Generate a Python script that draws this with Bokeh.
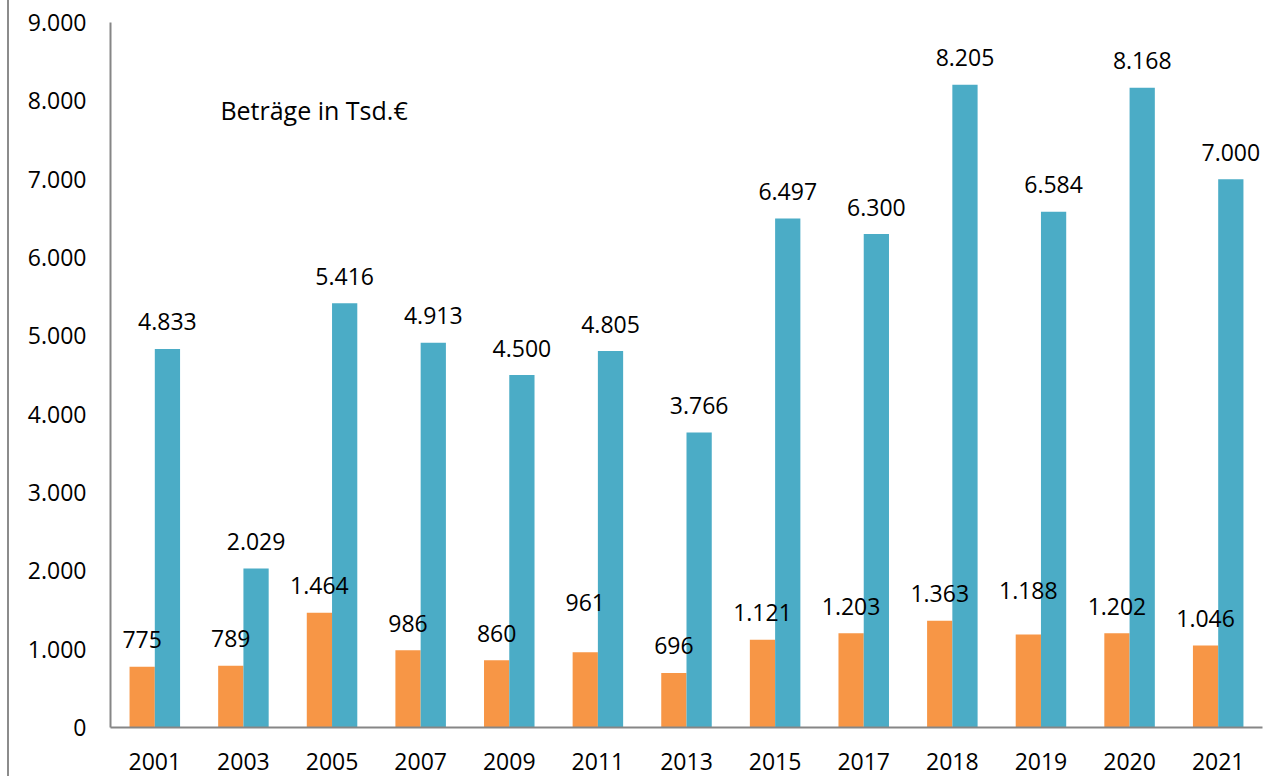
from bokeh.plotting import figure
from bokeh.models import (FactorRange, Range1d, ColumnDataSource, CustomJSTickFormatter,
                          FixedTicker, Label)
from bokeh.transform import dodge
from bokeh.core.properties import value
from bokeh.embed import file_html
from bokeh.resources import INLINE

# ---- data ----
years = ["2001", "2003", "2005", "2007", "2009", "2011", "2013",
         "2015", "2017", "2018", "2019", "2020", "2021"]
series_orange = [775, 789, 1464, 986, 860, 961, 696, 1121, 1203, 1363, 1188, 1202, 1046]
series_blue = [4833, 2029, 5416, 4913, 4500, 4805, 3766, 6497, 6300, 8205, 6584, 8168, 7000]
y_ticks = [0, 1000, 2000, 3000, 4000, 5000, 6000, 7000, 8000, 9000]
note_text = "Beträge in Tsd.€"

# extra lift (px) of a few orange labels, as placed in the original
orange_label_lift = [0, 0, 0, 0, 0, 23, 0, 0, 0, 0, 17, 0, 0]


def fmt(v):
    return f"{v:,}".replace(",", ".")


FONT = "Open Sans"
FS = "23px"
ORANGE = "#F79646"
BLUE = "#4BACC6"
AXIS = "#868686"

src = ColumnDataSource(dict(
    year=years,
    orange=series_orange,
    blue=series_blue,
    orange_lbl=[fmt(v) for v in series_orange],
    blue_lbl=[fmt(v) for v in series_blue],
    orange_off=[-27 - d for d in orange_label_lift],
))

p = figure(width=1273, height=776, x_range=FactorRange(*years, range_padding=0),
           y_range=Range1d(0, 9000), output_backend="svg", toolbar_location=None,
           min_border_left=110, min_border_right=11, min_border_top=22, min_border_bottom=49)
p.styles = {"background-image":
            "linear-gradient(to right, transparent 7px, #8c8c8c 7px, #8c8c8c 9px, transparent 9px)",
            "background-color": "white"}
p.outline_line_color = None
p.grid.visible = False
p.background_fill_color = "white"
p.border_fill_color = None

bw = 0.285
p.vbar(x=dodge("year", -bw / 2, range=p.x_range), top="orange", width=bw, source=src,
       fill_color=ORANGE, line_color=None)
p.vbar(x=dodge("year", bw / 2, range=p.x_range), top="blue", width=bw, source=src,
       fill_color=BLUE, line_color=None)

p.text(x=dodge("year", -bw / 2, range=p.x_range), y="orange", text="orange_lbl", source=src,
       y_offset="orange_off", text_align="center", text_baseline="middle",
       text_font=value(FONT), text_font_size=FS, text_color="black")
p.text(x=dodge("year", bw / 2, range=p.x_range), y="blue", text="blue_lbl", source=src,
       y_offset=-27, text_align="center", text_baseline="middle",
       text_font=value(FONT), text_font_size=FS, text_color="black")

p.add_layout(Label(x=1.24, y=7880, text=note_text, text_align="left", text_baseline="middle",
                   text_font=FONT, text_font_size="25px", text_color="black"))

# axes
p.yaxis.ticker = FixedTicker(ticks=y_ticks)
p.yaxis.formatter = CustomJSTickFormatter(
    code='return Math.round(tick).toString().replace(/\\B(?=(\\d{3})+(?!\\d))/g, ".");')
for ax in (p.xaxis[0], p.yaxis[0]):
    ax.axis_line_color = AXIS
    ax.axis_line_width = 2
    ax.major_tick_line_color = None
    ax.minor_tick_line_color = None
    ax.major_tick_out = 0
    ax.major_tick_in = 0
    ax.major_label_text_font = FONT
    ax.major_label_text_font_size = FS
    ax.major_label_text_color = "black"
p.yaxis.major_label_standoff = 24
p.xaxis.major_label_standoff = 25
p.xaxis.group_text_font_size = "0px"

open("out.html", "w").write(file_html(p, INLINE))
